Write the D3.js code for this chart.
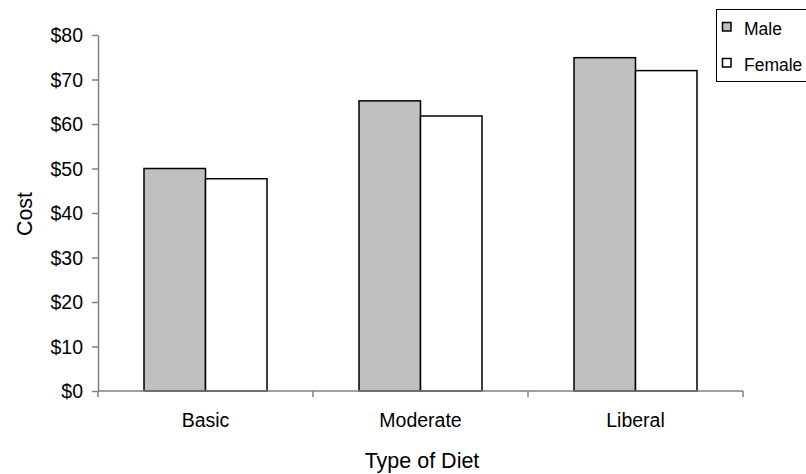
<!DOCTYPE html>
<html>
<head>
<meta charset="utf-8">
<script src="https://cdn.jsdelivr.net/npm/d3@7"></script>
<style>
  body { margin: 0; background: #fff; }
  svg { display: block; font-family: "Liberation Sans", Arial, sans-serif; }
</style>
</head>
<body>
<svg id="chart" width="806" height="474"></svg>
<script>
// Diet cost by type and sex
const categories = ["Basic", "Moderate", "Liberal"];
const seriesNames = ["Male", "Female"];
const maleValues = [50, 65.2, 74.9];
const femaleValues = [47.7, 61.8, 72];
const yTicks = [0, 10, 20, 30, 40, 50, 60, 70, 80];
const seriesFill = ["#c0c0c0", "#ffffff"];

const svg = d3.select("#chart");
const plotLeft = 98, plotRight = 743, plotTop = 35, plotBottom = 391;
const axisColor = "#808080";

const x = d3.scaleBand().domain(categories).range([plotLeft, plotRight]).paddingInner(0).paddingOuter(0);
const inner = d3.scaleBand().domain(seriesNames).range([0, x.bandwidth()]).paddingInner(0).paddingOuter(0.748);
const y = d3.scaleLinear().domain([0, 80]).range([plotBottom, plotTop]);

const values = [maleValues, femaleValues];

// bars
categories.forEach((c, i) => {
  seriesNames.forEach((s, j) => {
    const v = values[j][i];
    svg.append("rect")
      .attr("x", x(c) + inner(s))
      .attr("y", y(v))
      .attr("width", inner.bandwidth())
      .attr("height", y(0) - y(v))
      .attr("fill", seriesFill[j])
      .attr("stroke", "#000")
      .attr("stroke-width", 1.5);
  });
});

// y axis
const yAxis = d3.axisLeft(y).tickValues(yTicks).tickSize(6).tickSizeOuter(0)
  .tickFormat(d => "$" + d);
const gy = svg.append("g").attr("transform", `translate(${plotLeft},0)`).call(yAxis);
gy.select(".domain").attr("stroke", axisColor).attr("stroke-width", 1.5);
gy.selectAll(".tick line").attr("stroke", axisColor).attr("stroke-width", 1.5);
gy.selectAll(".tick text").attr("font-size", 19.5).attr("fill", "#000")
  .attr("font-family", "Liberation Sans, Arial, sans-serif").attr("x", -15).attr("dy", "0.35em");

// x axis with ticks at band boundaries
const gx = svg.append("g").attr("transform", `translate(0,${plotBottom})`);
gx.append("line").attr("x1", plotLeft).attr("x2", plotRight).attr("y1", 0).attr("y2", 0)
  .attr("stroke", axisColor).attr("stroke-width", 1.5);
const boundaries = categories.map(c => x(c)).concat([plotRight]);
gx.selectAll("line.tk").data(boundaries).join("line").attr("class", "tk")
  .attr("x1", d => d).attr("x2", d => d).attr("y1", 0).attr("y2", 6)
  .attr("stroke", axisColor).attr("stroke-width", 1.5);
gx.selectAll("text").data(categories).join("text")
  .attr("x", d => x(d) + x.bandwidth() / 2)
  .attr("y", 36)
  .attr("text-anchor", "middle")
  .attr("font-size", 19.5)
  .text(d => d);

// axis titles
svg.append("text").attr("x", 422).attr("y", 468).attr("text-anchor", "middle")
  .attr("font-size", 21.5).text("Type of Diet");
svg.append("text").attr("transform", "translate(32,214) rotate(-90)")
  .attr("text-anchor", "middle").attr("font-size", 21.5).text("Cost");

// legend
const lg = svg.append("g");
lg.append("rect").attr("x", 716.5).attr("y", 9.5).attr("width", 100).attr("height", 72)
  .attr("fill", "#fff").attr("stroke", "#000").attr("stroke-width", 1);
seriesNames.forEach((s, j) => {
  const cy = 26.5 + j * 36;
  lg.append("rect").attr("x", 722.5).attr("y", cy - 4).attr("width", 8.5).attr("height", 8.5)
    .attr("fill", seriesFill[j]).attr("stroke", "#000").attr("stroke-width", 1.5);
  lg.append("text").attr("x", 744).attr("y", cy + 8.5).attr("font-size", 17.5).text(s);
});
</script>
</body>
</html>
